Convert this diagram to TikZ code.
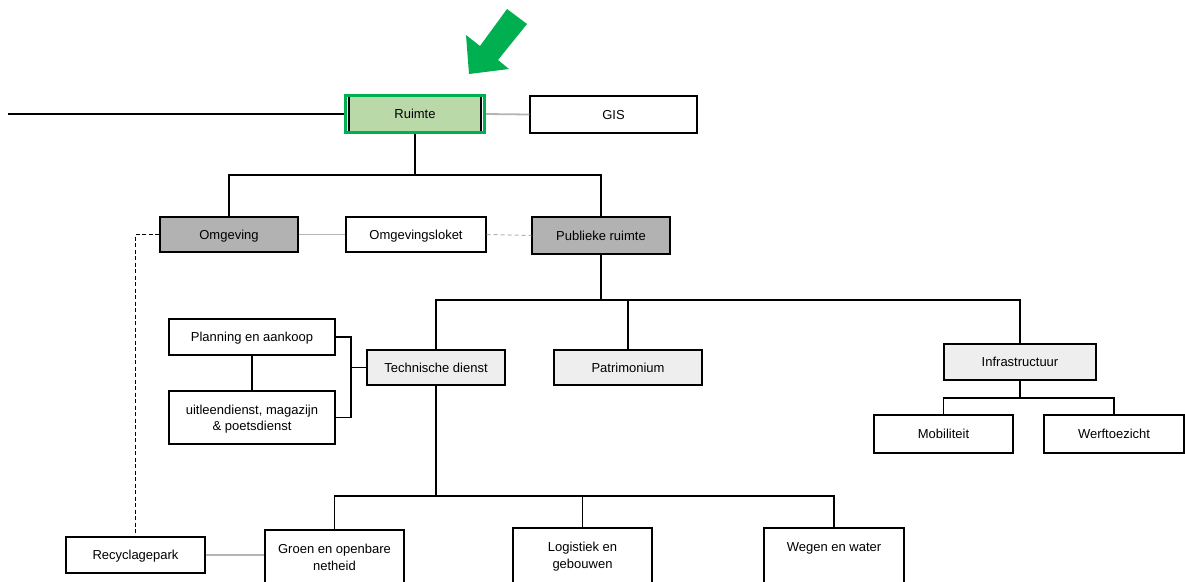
\documentclass[tikz,border=0pt]{standalone}
\usepackage{fontspec}
\setmainfont{Liberation Sans}
\definecolor{hlgreen}{HTML}{00B050}
\definecolor{ruimtegreen}{HTML}{B9D9A9}
\definecolor{boxgray}{HTML}{B2B2B2}
\definecolor{boxlight}{HTML}{EEEEEE}
\definecolor{linkgray}{HTML}{B4B4B4}
\tikzset{
 box/.style={draw=black, line width=1.3pt, rectangle, inner sep=0pt, align=center, font=\fontsize{13}{15}\selectfont, text height=11.5pt, text depth=2.5pt},
 wbox/.style={box, fill=white},
 gbox/.style={box, fill=boxgray},
 lbox/.style={box, fill=boxlight},
 txt/.style={inner sep=0pt, align=center, font=\fontsize{13}{16.5}\selectfont},
 link/.style={line width=1.6pt, draw=black},
 glink/.style={line width=1.8pt, draw=linkgray},
 thinglink/.style={line width=1pt, draw=linkgray},
 dlink/.style={line width=1.1pt, draw=black, dash pattern=on 4pt off 2.5pt},
 dglink/.style={line width=1pt, draw=linkgray, dash pattern=on 4pt off 3pt}
}
\begin{document}
\begin{tikzpicture}[x=1pt,y=-1pt]
\useasboundingbox (0,0) rectangle (1185,581);
\clip (0,0) rectangle (1185,581);
\fill[white] (0,0) rectangle (1185,581);
% green arrow
\fill[hlgreen] (507,9) -- (527,24) -- (498,60) -- (509,69) -- (469,74) -- (466,35) -- (480,46) -- cycle;
% nodes
\node[box, fill=ruimtegreen, minimum width=132, minimum height=35] (ruimte) at (415,114) {Ruimte};
\node[draw=hlgreen, line width=3pt, minimum width=139, minimum height=37, inner sep=0pt] (rhl) at (415,114) {};
\node[wbox, minimum width=167, minimum height=37] (gis) at (613.5,114.5) {GIS};
\node[gbox, minimum width=138, minimum height=35] (omgeving) at (229,234.5) {Omgeving};
\node[wbox, minimum width=140, minimum height=35] (loket) at (416,234.5) {Omgevingsloket};
\node[gbox, minimum width=138, minimum height=37] (publiek) at (601,235.5) {Publieke ruimte};
\node[lbox, minimum width=138, minimum height=35] (techn) at (436,367.5) {Technische dienst};
\node[lbox, minimum width=148, minimum height=35] (patri) at (628,367.5) {Patrimonium};
\node[wbox, minimum width=166, minimum height=36] (plan) at (252,337) {Planning en aankoop};
\node[draw=black, line width=1.3pt, fill=white, inner sep=0pt, minimum width=166, minimum height=53] (uitleen) at (252,417.5) {};
\node[txt, font=\fontsize{13}{15.5}\selectfont] (uitleent) at ([yshift=-1.5pt]uitleen.center) {uitleendienst, magazijn\\\& poetsdienst};
\node[lbox, minimum width=152, minimum height=36] (infra) at (1020,362) {Infrastructuur};
\node[wbox, minimum width=139, minimum height=38] (mobi) at (943.5,434) {Mobiliteit};
\node[wbox, minimum width=140, minimum height=38] (werf) at (1114,434) {Werftoezicht};
\node[wbox, minimum width=139, minimum height=36] (recyc) at (135.5,555) {Recyclagepark};
\node[draw=black, line width=1.3pt, fill=white, minimum width=139, minimum height=80, inner sep=0pt] (groen) at (334.5,570) {};
\node[draw=black, line width=1.3pt, fill=white, minimum width=139, minimum height=80, inner sep=0pt] (logis) at (582.5,568) {};
\node[draw=black, line width=1.3pt, fill=white, minimum width=140, minimum height=80, inner sep=0pt] (wegen) at (834,568) {};
\node[txt, anchor=north] (groent) at ([yshift=-15pt]groen.north) {Groen en openbare\\netheid};
\node[txt, anchor=north] (logist) at ([yshift=-15pt]logis.north) {Logistiek en\\gebouwen};
\node[txt, anchor=north] (wegent) at ([yshift=-15pt]wegen.north) {Wegen en water};
% coordinates
\coordinate (lstart) at (8,114);
\coordinate (rj) at (415,175);
\coordinate (pj) at (601,300);
\coordinate (dc) at (135.5,234.5);
\coordinate (br) at (351,367.5);
\coordinate (tj) at (436,496);
\coordinate (ij) at (1020,398);
% connectors
\draw[link] (lstart) -- (rhl.west);
\draw[glink] (rhl.east) -- (gis.west);
\draw[link] (rhl.south) -- (rj);
\draw[link] (omgeving.north) |- (rj) -| (publiek.north);
\draw[thinglink] (omgeving.east) -- (loket.west);
\draw[dglink] (loket.east) -- (publiek.west);
\draw[dlink] (omgeving.west) -- (dc) -- (recyc.north);
\draw[link] (publiek.south) -- (pj);
\draw[link] (techn.north) |- (pj) -| (infra.north);
\draw[link] (patri.north) -- (patri.north |- pj);
\draw[link] (plan.south) -- (uitleen.north);
\draw[link] (plan.east) -| (br) |- (uitleen.east);
\draw[link] (br) -- (techn.west);
\draw[link] (techn.south) -- (tj);
\draw[link] (groen.north) |- (tj) -| (wegen.north);
\draw[link] (logis.north) -- (logis.north |- tj);
\draw[link] (infra.south) -- (ij);
\draw[link] (mobi.north) |- (ij) -| (werf.north);
\draw[glink] (recyc.east) -- (recyc.east -| groen.west);
\end{tikzpicture}
\end{document}
